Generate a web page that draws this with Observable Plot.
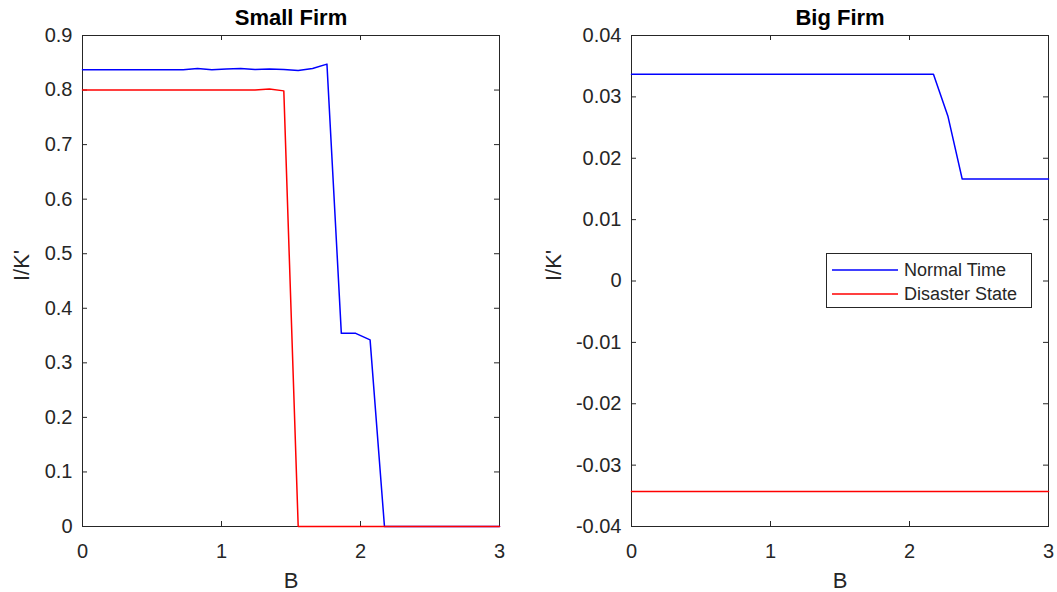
<!DOCTYPE html>
<html><head><meta charset="utf-8">
<script src="https://cdn.jsdelivr.net/npm/d3@7"></script>
<script src="https://cdn.jsdelivr.net/npm/@observablehq/plot@0.6"></script>
<style>
body{margin:0;background:#fff;}
#wrap{position:relative;width:1057px;height:592px;font-family:"Liberation Sans",Arial,sans-serif;}
#wrap > svg{position:absolute;top:0;}
#legend{position:absolute;left:826px;top:253px;width:206px;height:55px;border:1px solid #262626;box-sizing:border-box;background:#fff;font-size:18px;color:#262626;}
#legend .row{position:absolute;left:5px;height:24px;display:flex;align-items:center;white-space:nowrap;}
#legend .row svg{margin-right:6px;}
</style></head><body><div id="wrap"></div>
<script>
const B = [0, 0.1034, 0.2069, 0.3103, 0.4138, 0.5172, 0.6207, 0.7241, 0.8276, 0.9310,
  1.0345, 1.1379, 1.2414, 1.3448, 1.4483, 1.5517, 1.6552, 1.7586, 1.8621, 1.9655,
  2.0690, 2.1724, 2.2759, 2.3793, 2.4828, 2.5862, 2.6897, 2.7931, 2.8966, 3.0];
const smallNormal = [0.837, 0.837, 0.837, 0.837, 0.837, 0.837, 0.837, 0.837, 0.8396, 0.8371,
  0.8384, 0.8396, 0.8377, 0.8384, 0.8377, 0.8359, 0.8396, 0.8475, 0.354, 0.354,
  0.342, 0, 0, 0, 0, 0, 0, 0, 0, 0];
const smallDisaster = [0.8, 0.8, 0.8, 0.8, 0.8, 0.8, 0.8, 0.8, 0.8, 0.8,
  0.8, 0.8, 0.8, 0.802, 0.7985, 0, 0, 0, 0, 0,
  0, 0, 0, 0, 0, 0, 0, 0, 0, 0];
const bigNormal = [0.0337, 0.0337, 0.0337, 0.0337, 0.0337, 0.0337, 0.0337, 0.0337, 0.0337, 0.0337,
  0.0337, 0.0337, 0.0337, 0.0337, 0.0337, 0.0337, 0.0337, 0.0337, 0.0337, 0.0337,
  0.0337, 0.0337, 0.0269, 0.0166, 0.0166, 0.0166, 0.0166, 0.0166, 0.0166, 0.0166];
const bigDisaster = [-0.0343, -0.0343, -0.0343, -0.0343, -0.0343, -0.0343, -0.0343, -0.0343, -0.0343, -0.0343,
  -0.0343, -0.0343, -0.0343, -0.0343, -0.0343, -0.0343, -0.0343, -0.0343, -0.0343, -0.0343,
  -0.0343, -0.0343, -0.0343, -0.0343, -0.0343, -0.0343, -0.0343, -0.0343, -0.0343, -0.0343];
const xTicks = [0, 1, 2, 3];
const smallYTicks = [0, 0.1, 0.2, 0.3, 0.4, 0.5, 0.6, 0.7, 0.8, 0.9];
const bigYTicks = [-0.04, -0.03, -0.02, -0.01, 0, 0.01, 0.02, 0.03, 0.04];
const seriesNames = ["Normal Time", "Disaster State"];
const seriesColors = ["#0000ff", "#ff0000"];
const titles = ["Small Firm", "Big Firm"];
const xLabel = "B";
const yLabel = "I/K'";

const FONT = '"Liberation Sans", Arial, sans-serif';
const AX = "#262626";

function rows(ys) { return B.map((b, i) => ({B: b, v: ys[i]})); }

function panel({title, normal, disaster, yDomain, yTicks, yFmt, width, ml, mr, ylabDx}) {
  const H = 592, mt = 35, mb = 66;
  const iw = width - ml - mr, ih = H - mt - mb;
  return Plot.plot({
    width, height: H, marginLeft: ml, marginRight: mr, marginTop: mt, marginBottom: mb,
    style: {fontFamily: FONT, fontSize: "20px", color: AX, background: "transparent", overflow: "visible"},
    x: {domain: [0, 3], axis: null},
    y: {domain: yDomain, axis: null},
    marks: [
      Plot.frame({stroke: AX, strokeWidth: 1}),
      Plot.tickX(xTicks, {x: d => d, insetTop: ih - 5, stroke: AX}),
      Plot.tickX(xTicks, {x: d => d, insetBottom: ih - 5, stroke: AX}),
      Plot.tickY(yTicks, {y: d => d, insetRight: iw - 5, stroke: AX}),
      Plot.tickY(yTicks, {y: d => d, insetLeft: iw - 5, stroke: AX}),
      Plot.line(rows(normal), {x: "B", y: "v", stroke: seriesColors[0], strokeWidth: 1.5}),
      Plot.line(rows(disaster), {x: "B", y: "v", stroke: seriesColors[1], strokeWidth: 1.5}),
      Plot.text(xTicks, {x: d => d, frameAnchor: "bottom", dy: 17, lineAnchor: "top", text: d => String(d), fill: AX, fontSize: 20}),
      Plot.text(yTicks, {y: d => d, frameAnchor: "left", dx: -10, textAnchor: "end", text: yFmt, fill: AX, fontSize: 20}),
      Plot.text([xLabel], {frameAnchor: "bottom", dy: 54, lineAnchor: "middle", text: d => d, fill: AX, fontSize: 22}),
      Plot.text([yLabel], {frameAnchor: "left", dx: ylabDx, rotate: -90, lineAnchor: "middle", text: d => d, fill: AX, fontSize: 22}),
      Plot.text([title], {frameAnchor: "top", dy: -18, lineAnchor: "middle", text: d => d, fill: "#000", fontSize: 22, fontWeight: "bold"})
    ]
  });
}

const wrap = document.getElementById("wrap");
const left = panel({
  title: titles[0], normal: smallNormal, disaster: smallDisaster, yDomain: [0, 0.9], yTicks: smallYTicks,
  yFmt: d => d === 0 ? "0" : d.toFixed(1), width: 530, ml: 82, mr: 31, ylabDx: -61
});
left.style.left = "0px";
wrap.appendChild(left);
const right = panel({
  title: titles[1], normal: bigNormal, disaster: bigDisaster, yDomain: [-0.04, 0.04], yTicks: bigYTicks,
  yFmt: d => d === 0 ? "0" : d.toFixed(2), width: 527, ml: 101, mr: 9, ylabDx: -78
});
right.style.left = "530px";
wrap.appendChild(right);

const legend = document.createElement("div");
legend.id = "legend";
seriesNames.forEach((name, i) => {
  const row = document.createElement("div");
  row.className = "row";
  row.style.top = (4 + i * 24) + "px";
  row.innerHTML = `<svg width="66" height="4"><line x1="0" x2="66" y1="2" y2="2" stroke="${seriesColors[i]}" stroke-width="1.5"/></svg><span>${name}</span>`;
  legend.appendChild(row);
});
wrap.appendChild(legend);
</script>
</body></html>
